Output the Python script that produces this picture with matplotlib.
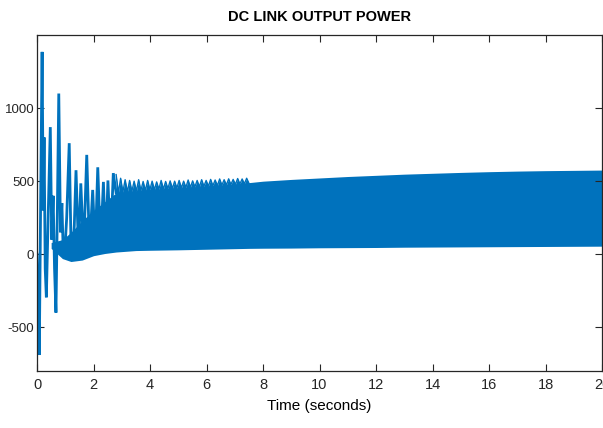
import numpy as np
import matplotlib.pyplot as plt

plt.rcParams["font.family"] = ["Liberation Sans Narrow", "Liberation Sans", "DejaVu Sans"]
plt.rcParams["axes.unicode_minus"] = False

LINE_BLUE = "#0072BD"

# start-up transient: alternating local extremes (s, W)
t_trans = [0.0, 0.04, 0.08, 0.13, 0.18, 0.22, 0.25, 0.29, 0.33, 0.40, 0.47, 0.52,
           0.57, 0.62, 0.67, 0.72, 0.77, 0.83, 0.88, 0.93, 0.97, 1.05, 1.14, 1.20,
           1.26, 1.32, 1.38, 1.47, 1.55, 1.65, 1.76, 1.86, 1.97, 2.06, 2.15, 2.25,
           2.35, 2.43, 2.51, 2.60, 2.70, 2.80]
p_trans = [0, -300, -690, 400, 1385, 300, 800, -100, -295, 300, 870, 100,
           400, -100, -400, 300, 1100, 150, 350, 0, -30, 250, 760, 100,
           -40, 200, 575, 20, 485, 20, 680, 30, 440, 30, 595, 40, 495, 50,
           505, 60, 555, 420]

# ripple teeth after the transient (tops and valleys), 2.8 s .. 7.5 s
teeth_start, teeth_end = 2.8, 7.5
teeth_tops = [545, 520, 510, 505, 500, 510, 498, 505, 500, 495, 505, 498, 502, 500,
              505, 500, 508, 502, 505, 510, 505, 512, 508, 515, 510, 516, 512, 518,
              515, 520]
teeth_valleys = [420, 426, 427, 431, 432, 436, 436, 441, 442, 445, 446, 449, 450, 453,
                 454, 457, 458, 461, 462, 465, 466, 469, 470, 473, 474, 477, 478, 481,
                 482, 486]

# envelope of the dense band
t_env = [0.5, 0.9, 1.2, 1.6, 2.0, 2.4, 2.8, 3.5, 4.0, 5.0, 6.0, 7.0, 7.5, 8.0, 9.0,
         10.0, 11.0, 12.0, 13.0, 14.0, 15.0, 16.0, 17.0, 18.0, 19.0, 20.0]
env_top = [80, 100, 150, 230, 300, 360, 420, 432, 440, 450, 462, 478, 490, 500, 512,
           522, 532, 540, 548, 554, 560, 565, 569, 572, 574, 576]
env_low = [40, -30, -50, -40, -10, 5, 15, 25, 27, 30, 34, 38, 40, 41, 42,
           44, 45, 46, 48, 49, 50, 51, 52, 53, 54, 55]

t_axis = [0, 2, 4, 6, 8, 10, 12, 14, 16, 18, 20]
p_axis = [-500, 0, 500, 1000]

fig = plt.figure(figsize=(6.03, 4.28), dpi=100)
ax = fig.add_axes([0.0614, 0.133, 0.937, 0.785])

ax.fill_between(t_env, env_low, env_top, color=LINE_BLUE, lw=0)

n = len(teeth_tops)
t_teeth = np.linspace(teeth_start, teeth_end, 2 * n)
p_teeth = np.empty(2 * n)
p_teeth[0::2] = teeth_tops
p_teeth[1::2] = teeth_valleys
ax.plot(t_teeth, p_teeth, color=LINE_BLUE, lw=1.0)
ax.fill_between(t_teeth, 250, p_teeth, color=LINE_BLUE, lw=0)

ax.plot(t_trans, p_trans, color=LINE_BLUE, lw=2.0, solid_joinstyle="miter")

ax.set_xlim(0, 20)
ax.set_ylim(-800, 1500)
ax.set_xticks(t_axis)
ax.set_yticks(p_axis)
ax.tick_params(direction="in", top=True, right=True, length=5, width=0.8,
               labelsize=10.5, colors="#262626", pad=5)
ax.tick_params(axis="y", labelsize=9.5, pad=2)
for s in ax.spines.values():
    s.set_color("#262626")
    s.set_linewidth(0.9)

ax.set_title("DC LINK OUTPUT POWER", fontsize=10.5, fontweight="bold", pad=10)
ax.set_xlabel("Time (seconds)", fontsize=11, labelpad=5)

fig.savefig("out.png", dpi=100)
